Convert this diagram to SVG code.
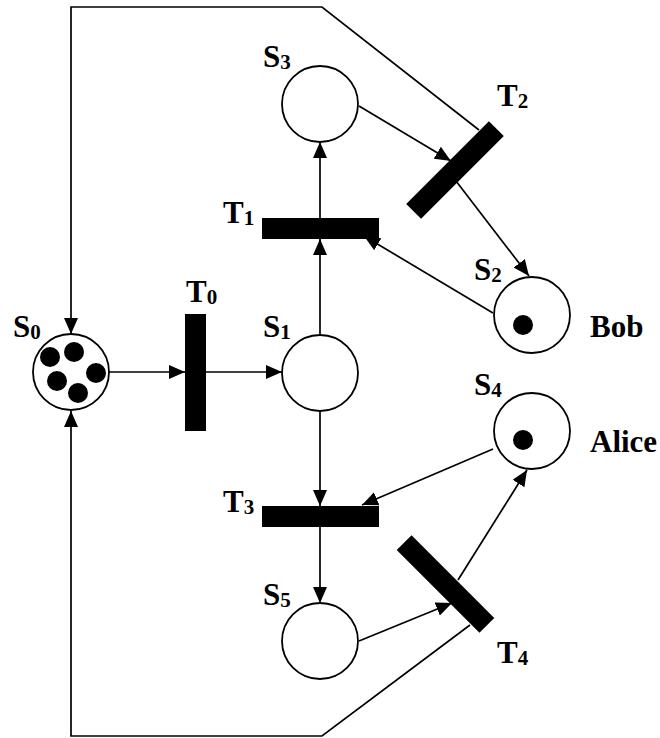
<svg xmlns="http://www.w3.org/2000/svg" width="660" height="738" viewBox="0 0 660 738">
  <style>
    .place { fill: #ffffff; stroke: #000000; stroke-width: 1.8; }
    .token { fill: #000000; }
    .trans { fill: #000000; }
    .arc { fill: none; stroke: #000000; stroke-width: 1.7; marker-end: url(#head); }
    text { font-family: "Liberation Serif", "Times New Roman", Times, "DejaVu Serif", serif; font-weight: bold; font-size: 31px; fill: #000000; }
    .sub { font-size: 21px; }
  </style>
  <defs>
    <marker id="head" viewBox="0 0 16 14" refX="16" refY="7" markerWidth="16" markerHeight="14" markerUnits="userSpaceOnUse" orient="auto">
      <path d="M0,0 L16,7 L0,14 z" fill="#000000"/>
    </marker>
  </defs>

  <!-- arcs of the net -->
  <g id="connectors">
    <path class="arc" d="M109,372 H185"/>
    <path class="arc" d="M206,372 H282"/>
    <path class="arc" d="M320,334 V239"/>
    <path class="arc" d="M320,218 V142"/>
    <path class="arc" d="M359,106 L451,161"/>
    <path class="arc" d="M456,181 L529,276"/>
    <path class="arc" d="M493,313 L364,236"/>
    <path class="arc" d="M320,411 V506"/>
    <path class="arc" d="M320,527 V603"/>
    <path class="arc" d="M493,449 L362,505"/>
    <path class="arc" d="M359,641 L452,603"/>
    <path class="arc" d="M458,580 L527,470"/>
    <path class="arc" d="M479,130 L322,7 H71 V334"/>
    <path class="arc" d="M470,625 L322,736 H71 V411"/>
  </g>

  <!-- places -->
  <g id="S0">
    <circle class="place" cx="71" cy="372" r="38"/>
    <circle class="token" cx="50" cy="357" r="10"/>
    <circle class="token" cx="74" cy="352" r="10"/>
    <circle class="token" cx="96" cy="373" r="10"/>
    <circle class="token" cx="57" cy="381" r="10"/>
    <circle class="token" cx="78" cy="393" r="10"/>
    <text x="13" y="337">S<tspan class="sub" dy="2">0</tspan></text>
  </g>
  <g id="S1">
    <circle class="place" cx="320" cy="373" r="38"/>
    <text x="263" y="337">S<tspan class="sub" dy="2">1</tspan></text>
  </g>
  <g id="S2">
    <circle class="place" cx="532" cy="315" r="38"/>
    <circle class="token" cx="523" cy="325" r="10"/>
    <text x="474" y="280">S<tspan class="sub" dy="2">2</tspan></text>
    <text x="590" y="337">Bob</text>
  </g>
  <g id="S3">
    <circle class="place" cx="320" cy="104" r="38"/>
    <text x="263" y="67">S<tspan class="sub" dy="2">3</tspan></text>
  </g>
  <g id="S4">
    <circle class="place" cx="532" cy="431" r="38"/>
    <circle class="token" cx="523" cy="440" r="10"/>
    <text x="474" y="395">S<tspan class="sub" dy="2">4</tspan></text>
    <text x="590" y="452">Alice</text>
  </g>
  <g id="S5">
    <circle class="place" cx="320" cy="641" r="38"/>
    <text x="263" y="605">S<tspan class="sub" dy="2">5</tspan></text>
  </g>

  <!-- transitions -->
  <g id="T0">
    <rect class="trans" x="185" y="314" width="21" height="117"/>
    <text x="186" y="302">T<tspan class="sub" dy="2">0</tspan></text>
  </g>
  <g id="T1">
    <rect class="trans" x="262" y="218" width="117" height="21"/>
    <text x="223" y="223">T<tspan class="sub" dy="2">1</tspan></text>
  </g>
  <g id="T2">
    <rect class="trans" x="-58.5" y="-10.5" width="117" height="21" transform="translate(455,170) rotate(-45)"/>
    <text x="497" y="106">T<tspan class="sub" dy="2">2</tspan></text>
  </g>
  <g id="T3">
    <rect class="trans" x="262" y="506" width="117" height="21"/>
    <text x="223" y="512">T<tspan class="sub" dy="2">3</tspan></text>
  </g>
  <g id="T4">
    <rect class="trans" x="-58.5" y="-10.5" width="117" height="21" transform="translate(445.5,584) rotate(45)"/>
    <text x="497" y="663">T<tspan class="sub" dy="2">4</tspan></text>
  </g>
</svg>
